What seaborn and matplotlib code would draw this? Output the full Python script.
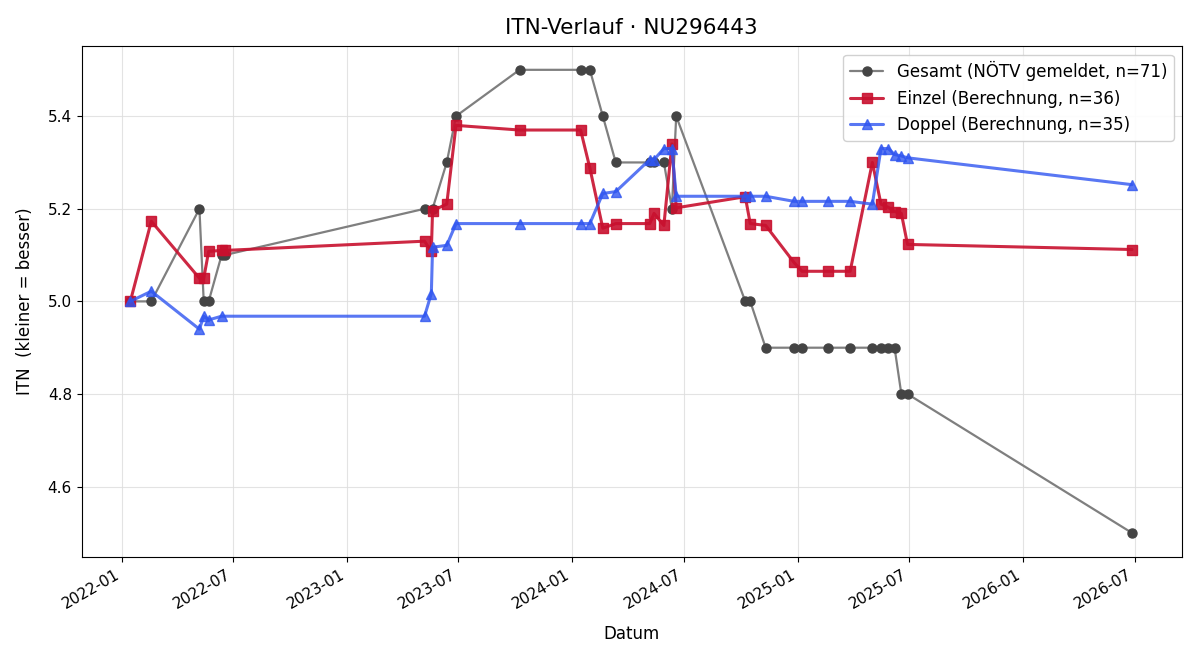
import pandas as pd
import matplotlib
matplotlib.use('Agg')
import matplotlib.pyplot as plt
import matplotlib.dates as mdates
import seaborn as sns

# data
gesamt_dates = ['2022-01-15', '2022-02-18', '2022-05-07', '2022-05-14', '2022-05-22',
                '2022-06-12', '2022-06-17', '2023-05-07', '2023-05-20', '2023-06-12',
                '2023-06-27', '2023-10-08', '2024-01-15', '2024-01-30', '2024-02-20',
                '2024-03-12', '2024-05-06', '2024-05-13', '2024-05-29', '2024-06-11',
                '2024-06-18', '2024-10-08', '2024-10-16', '2024-11-10', '2024-12-26',
                '2025-01-08', '2025-02-19', '2025-03-27', '2025-05-02', '2025-05-16',
                '2025-05-28', '2025-06-07', '2025-06-18', '2025-06-28', '2026-06-27']
gesamt_itn = [5.0, 5.0, 5.2, 5.0, 5.0,
              5.1, 5.1, 5.2, 5.2, 5.3,
              5.4, 5.5, 5.5, 5.5, 5.4,
              5.3, 5.3, 5.3, 5.3, 5.2,
              5.4, 5.0, 5.0, 4.9, 4.9,
              4.9, 4.9, 4.9, 4.9, 4.9,
              4.9, 4.9, 4.8, 4.8, 4.5]

einzel_dates = ['2022-01-15', '2022-02-18', '2022-05-07', '2022-05-14', '2022-05-22',
                '2022-06-12', '2022-06-17', '2023-05-07', '2023-05-18', '2023-05-20',
                '2023-06-12', '2023-06-27', '2023-10-08', '2024-01-15', '2024-01-30',
                '2024-02-20', '2024-03-12', '2024-05-06', '2024-05-13', '2024-05-29',
                '2024-06-11', '2024-06-18', '2024-10-08', '2024-10-16', '2024-11-10',
                '2024-12-26', '2025-01-08', '2025-02-19', '2025-03-27', '2025-05-02',
                '2025-05-16', '2025-05-28', '2025-06-07', '2025-06-18', '2025-06-28',
                '2026-06-27']
einzel_itn = [5.0, 5.173, 5.05, 5.05, 5.108,
              5.11, 5.11, 5.13, 5.108, 5.196,
              5.21, 5.38, 5.37, 5.37, 5.288,
              5.158, 5.168, 5.168, 5.19, 5.164,
              5.34, 5.202, 5.226, 5.168, 5.164,
              5.084, 5.065, 5.065, 5.065, 5.30,
              5.21, 5.203, 5.194, 5.19, 5.123,
              5.112]

doppel_dates = ['2022-01-15', '2022-02-18', '2022-05-07', '2022-05-14', '2022-05-22',
                '2022-06-12', '2023-05-07', '2023-05-18', '2023-05-20', '2023-06-12',
                '2023-06-27', '2023-10-08', '2024-01-15', '2024-01-30', '2024-02-20',
                '2024-03-12', '2024-05-06', '2024-05-13', '2024-05-29', '2024-06-11',
                '2024-06-18', '2024-10-08', '2024-10-16', '2024-11-10', '2024-12-26',
                '2025-01-08', '2025-02-19', '2025-03-27', '2025-05-02', '2025-05-16',
                '2025-05-28', '2025-06-07', '2025-06-18', '2025-06-28', '2026-06-27']
doppel_itn = [5.0, 5.022, 4.94, 4.968, 4.96,
              4.968, 4.968, 5.017, 5.117, 5.121,
              5.168, 5.168, 5.168, 5.168, 5.233,
              5.237, 5.306, 5.306, 5.33, 5.33,
              5.227, 5.227, 5.227, 5.227, 5.216,
              5.216, 5.216, 5.216, 5.21, 5.33,
              5.33, 5.317, 5.314, 5.31, 5.252]

gesamt = pd.DataFrame({'Datum': pd.to_datetime(gesamt_dates), 'ITN': gesamt_itn})
einzel = pd.DataFrame({'Datum': pd.to_datetime(einzel_dates), 'ITN': einzel_itn})
doppel = pd.DataFrame({'Datum': pd.to_datetime(doppel_dates), 'ITN': doppel_itn})

sns.set_style('ticks')
plt.rcParams['font.family'] = ['DejaVu Sans']
plt.rcParams['text.color'] = 'black'
plt.rcParams['axes.labelcolor'] = 'black'
plt.rcParams['xtick.color'] = 'black'
plt.rcParams['ytick.color'] = 'black'

fig, ax = plt.subplots(figsize=(12, 6.6), dpi=100)

sns.lineplot(data=gesamt, x='Datum', y='ITN', ax=ax, color='#7f7f7f',
             marker='o', markersize=6.5, linewidth=1.6, markerfacecolor='#444444',
             markeredgecolor='#444444', markeredgewidth=1,
             label='Gesamt (NÖTV gemeldet, n=71)')
sns.lineplot(data=einzel, x='Datum', y='ITN', ax=ax, color='#C8102E', alpha=0.9,
             marker='s', markersize=7.5, linewidth=2.2, markeredgecolor='#C8102E',
             markeredgewidth=1, label='Einzel (Berechnung, n=36)')
sns.lineplot(data=doppel, x='Datum', y='ITN', ax=ax, color='#2F55F0', alpha=0.8,
             marker='^', markersize=7.5, linewidth=2.2, markeredgecolor='#2F55F0',
             markeredgewidth=1, label='Doppel (Berechnung, n=35)')

ax.set_title('ITN-Verlauf · NU296443', fontsize=15.5, pad=9)
ax.set_xlabel('Datum', fontsize=12, labelpad=10)
ax.set_ylabel('ITN  (kleiner = besser)', fontsize=12, labelpad=10)
ax.xaxis.set_major_locator(mdates.MonthLocator(bymonth=[1, 7]))
ax.xaxis.set_major_formatter(mdates.DateFormatter('%Y-%m'))
ax.set_xlim(pd.Timestamp('2021-10-28'), pd.Timestamp('2026-09-16'))
ax.set_ylim(4.448, 5.551)
ax.set_yticks([4.6, 4.8, 5.0, 5.2, 5.4])
ax.tick_params(labelsize=11)
ax.grid(True, color='#dddddd', alpha=0.8)
for s in ax.spines.values():
    s.set_visible(True)
    s.set_color('black')
ax.legend(loc='upper right', fontsize=12, framealpha=0.9)
fig.autofmt_xdate(rotation=30)
fig.subplots_adjust(left=0.068, right=0.985, top=0.930, bottom=0.156)
fig.savefig('out.png')
